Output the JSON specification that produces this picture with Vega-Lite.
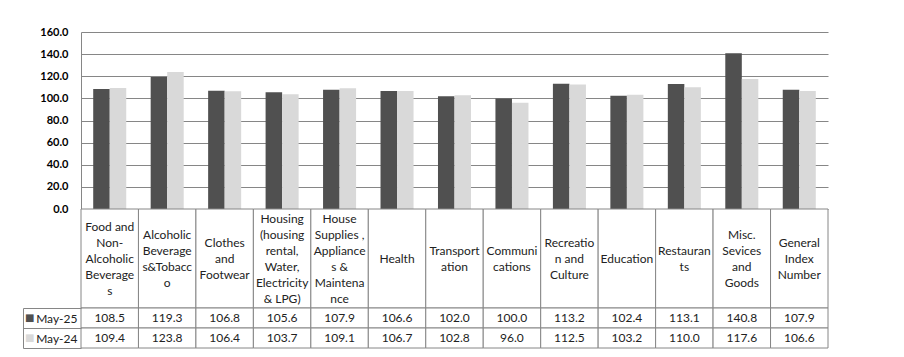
{
  "$schema": "https://vega.github.io/schema/vega-lite/v6.json",
  "background": "white",
  "padding": {"left": 22, "top": 26, "right": 5, "bottom": 5},
  "autosize": {"type": "pad"},
  "bounds": "flush",
  "spacing": 0,
  "config": {"view": {"stroke": null}, "font": "Lato"},
  "datasets": {
    "vals": [
      {"cat": "Food", "series": "May-25", "value": 108.5},
      {"cat": "Alcohol", "series": "May-25", "value": 119.3},
      {"cat": "Clothes", "series": "May-25", "value": 106.8},
      {"cat": "Housing", "series": "May-25", "value": 105.6},
      {"cat": "House", "series": "May-25", "value": 107.9},
      {"cat": "Health", "series": "May-25", "value": 106.6},
      {"cat": "Transport", "series": "May-25", "value": 102.0},
      {"cat": "Comm", "series": "May-25", "value": 100.0},
      {"cat": "Recreation", "series": "May-25", "value": 113.2},
      {"cat": "Education", "series": "May-25", "value": 102.4},
      {"cat": "Restaurants", "series": "May-25", "value": 113.1},
      {"cat": "Misc", "series": "May-25", "value": 140.8},
      {"cat": "General", "series": "May-25", "value": 107.9},
      {"cat": "Food", "series": "May-24", "value": 109.4},
      {"cat": "Alcohol", "series": "May-24", "value": 123.8},
      {"cat": "Clothes", "series": "May-24", "value": 106.4},
      {"cat": "Housing", "series": "May-24", "value": 103.7},
      {"cat": "House", "series": "May-24", "value": 109.1},
      {"cat": "Health", "series": "May-24", "value": 106.7},
      {"cat": "Transport", "series": "May-24", "value": 102.8},
      {"cat": "Comm", "series": "May-24", "value": 96.0},
      {"cat": "Recreation", "series": "May-24", "value": 112.5},
      {"cat": "Education", "series": "May-24", "value": 103.2},
      {"cat": "Restaurants", "series": "May-24", "value": 110.0},
      {"cat": "Misc", "series": "May-24", "value": 117.6},
      {"cat": "General", "series": "May-24", "value": 106.6}
    ],
    "heads": [
      {"cat": "Food", "label": ["Food and", "Non-", "Alcoholic", "Beverage", "s"]},
      {"cat": "Alcohol", "label": ["Alcoholic", "Beverage", "s&Tobacc", "o"]},
      {"cat": "Clothes", "label": ["Clothes", "and", "Footwear"]},
      {"cat": "Housing", "label": ["Housing", "(housing", "rental,", "Water,", "Electricity", "& LPG)"]},
      {"cat": "House", "label": ["House", "Supplies ,", "Appliance", "s &", "Maintena", "nce"]},
      {"cat": "Health", "label": ["Health"]},
      {"cat": "Transport", "label": ["Transport", "ation"]},
      {"cat": "Comm", "label": ["Communi", "cations"]},
      {"cat": "Recreation", "label": ["Recreatio", "n and", "Culture"]},
      {"cat": "Education", "label": ["Education"]},
      {"cat": "Restaurants", "label": ["Restauran", "ts"]},
      {"cat": "Misc", "label": ["Misc.", "Sevices", "and", "Goods"]},
      {"cat": "General", "label": ["General", "Index", "Number"]}
    ]
  },
  "vconcat": [
    {
      "width": 747,
      "height": 177,
      "data": {"name": "vals"},
      "mark": {"type": "bar"},
      "encoding": {
        "x": {"field": "cat", "type": "nominal", "sort": ["Food","Alcohol","Clothes","Housing","House","Health","Transport","Comm","Recreation","Education","Restaurants","Misc","General"], "scale": {"paddingInner": 0.425, "paddingOuter": 0.2125}, "axis": null},
        "xOffset": {"field": "series", "type": "nominal", "sort": ["May-25", "May-24"]},
        "y": {"field": "value", "type": "quantitative", "scale": {"domain": [0, 160], "nice": false},
          "axis": {"values": [0,20,40,60,80,100,120,140,160], "format": ".1f", "title": null, "grid": true, "gridColor": "#868686", "gridOpacity": 1, "domainColor": "#868686", "ticks": false, "labelPadding": 13, "labelFont": "Lato", "labelFontSize": 11, "labelFontWeight": "bold", "labelColor": "#000000"}},
        "color": {"field": "series", "type": "nominal", "scale": {"domain": ["May-25", "May-24"], "range": ["#505050", "#d9d9d9"]}, "legend": null}
      }
    },
    {
      "width": 747,
      "height": 99,
      "data": {"name": "heads"},
      "layer": [
        {
          "mark": {"type": "rect", "fill": "white", "stroke": "#868686", "strokeWidth": 1},
          "encoding": {
            "x": {"field": "cat", "type": "nominal", "sort": ["Food","Alcohol","Clothes","Housing","House","Health","Transport","Comm","Recreation","Education","Restaurants","Misc","General"], "scale": {"paddingInner": 0, "paddingOuter": 0}, "axis": null}
          }
        },
        {
          "mark": {"type": "text", "font": "Lato", "fontSize": 12, "lineHeight": 16, "color": "#222222", "baseline": "middle", "align": "center", "dy": {"expr": "-(length(datum.label) - 1) * 8"}},
          "encoding": {
            "x": {"field": "cat", "type": "nominal", "sort": ["Food","Alcohol","Clothes","Housing","House","Health","Transport","Comm","Recreation","Education","Restaurants","Misc","General"], "scale": {"paddingInner": 0, "paddingOuter": 0}, "axis": null},
            "text": {"field": "label"}
          }
        }
      ]
    },
    {
      "width": 747,
      "height": 40,
      "data": {"name": "vals"},
      "layer": [
        {
          "mark": {"type": "rect", "fill": "white", "stroke": "#868686", "strokeWidth": 1},
          "encoding": {
            "x": {"field": "cat", "type": "nominal", "sort": ["Food","Alcohol","Clothes","Housing","House","Health","Transport","Comm","Recreation","Education","Restaurants","Misc","General"], "scale": {"paddingInner": 0, "paddingOuter": 0}, "axis": null},
            "y": {"field": "series", "type": "nominal", "sort": ["May-25", "May-24"], "scale": {"paddingInner": 0, "paddingOuter": 0},
              "axis": {"orient": "left", "title": null, "domain": false, "ticks": true, "tickBand": "extent", "tickSize": 58, "tickColor": "#868686", "labelPadding": -54, "labelFont": "Lato", "labelFontSize": 12, "labelColor": "#222222", "labelAlign": "right"}}
          }
        },
        {
          "mark": {"type": "text", "font": "Lato", "fontSize": 12, "color": "#222222", "baseline": "middle", "align": "center"},
          "encoding": {
            "x": {"field": "cat", "type": "nominal", "sort": ["Food","Alcohol","Clothes","Housing","House","Health","Transport","Comm","Recreation","Education","Restaurants","Misc","General"], "scale": {"paddingInner": 0, "paddingOuter": 0}, "axis": null},
            "y": {"field": "series", "type": "nominal", "sort": ["May-25", "May-24"],
              "axis": {"orient": "left", "title": null, "offset": 58, "domain": true, "domainColor": "#868686", "ticks": false, "labelPadding": -11, "labelExpr": "'■'", "labelFont": "DejaVu Sans", "labelFontSize": 10, "labelAlign": "right",
                "labelColor": {"condition": {"test": "datum.value === 'May-25'", "value": "#505050"}, "value": "#d9d9d9"}}},
            "text": {"field": "value", "type": "quantitative", "format": ".1f"}
          }
        }
      ],
      "resolve": {"axis": {"y": "independent"}}
    }
  ]
}
